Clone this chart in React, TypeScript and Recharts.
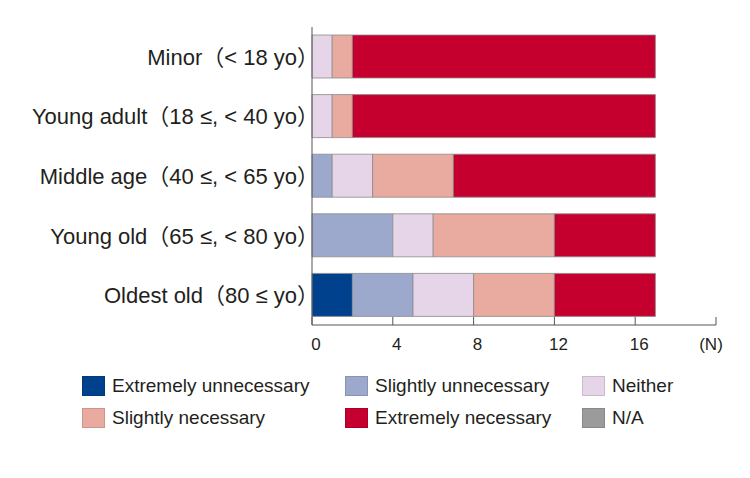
import React from 'react';
import { BarChart, Bar, XAxis, YAxis } from 'recharts';

const categories = [
    'Minor（< 18 yo）',
    'Young adult（18 ≤, < 40 yo）',
    'Middle age（40 ≤, < 65 yo）',
    'Young old（65 ≤, < 80 yo）',
    'Oldest old（80 ≤ yo）',
];

const seriesNames = [
    'Extremely unnecessary',
    'Slightly unnecessary',
    'Neither',
    'Slightly necessary',
    'Extremely necessary',
    'N/A',
];

const seriesColors = ['#00418E', '#9CA9CC', '#E6D5E8', '#E9AAA0', '#C5002E', '#9B9B9B'];

const extremelyUnnecessary = [0, 0, 0, 0, 2];
const slightlyUnnecessary = [0, 0, 1, 4, 3];
const neither = [1, 1, 2, 2, 3];
const slightlyNecessary = [1, 1, 4, 6, 4];
const extremelyNecessary = [15, 15, 10, 5, 5];
const notAvailable = [0, 0, 0, 0, 0];

const xTicks = [0, 4, 8, 12, 16, 20];
const xTickLabels = ['0', '4', '8', '12', '16', '(N)'];

const seriesValues = [
    extremelyUnnecessary,
    slightlyUnnecessary,
    neither,
    slightlyNecessary,
    extremelyNecessary,
    notAvailable,
];

const data = categories.map((name, i) => {
    const row: Record<string, string | number> = { name };
    seriesValues.forEach((vals, s) => {
        row['s' + s] = vals[i];
    });
    return row;
});

const FONT = "'Liberation Sans', Arial, 'Noto Sans CJK JP', sans-serif";
const NARROW = "'Liberation Sans Narrow', 'Arial Narrow', 'Liberation Sans', sans-serif";

function XTick(props: any) {
    const { x, y, payload } = props;
    const idx = xTicks.indexOf(payload.value);
    const label = xTickLabels[idx] ?? String(payload.value);
    const dx = label === '(N)' ? -5 : 4;
    return (
        <g>
            <line x1={x} y1={y} x2={x} y2={y - 8} stroke="#555" strokeWidth={1} />
            <text x={x + dx} y={y + 25} textAnchor="middle" fontSize={17} fill="#231f20" fontFamily={NARROW}>
                {label}
            </text>
        </g>
    );
}

// full-width closing paren carries its own right-side blank, so push the text a bit right
function YTick(props: any) {
    const { x, y, payload } = props;
    return (
        <text x={x + 7} y={y} dy="0.36em" textAnchor="end" fontSize={22} fill="#231f20" fontFamily={FONT}>
            {payload.value}
        </text>
    );
}

const legendCols = [82, 345, 582];
const legendRows = [376, 408];

export default function App() {
    return (
        <div style={{ position: 'absolute', left: 0, top: 0, width: 750, height: 478, background: '#fff', fontFamily: FONT }}>
            <BarChart
                width={750}
                height={478}
                data={data}
                layout="vertical"
                margin={{ top: 27, right: 34, bottom: 123, left: 0 }}
                barSize={43}
            >
                <XAxis
                    type="number"
                    domain={[0, 20]}
                    ticks={xTicks}
                    height={30}
                    axisLine={{ stroke: '#555' }}
                    tickLine={false}
                    tickSize={0}
                    tickMargin={0}
                    tick={<XTick />}
                    interval={0}
                />
                <YAxis
                    type="category"
                    dataKey="name"
                    width={312}
                    axisLine={{ stroke: '#555' }}
                    tickLine={false}
                    tickSize={0}
                    tickMargin={0}
                    tick={<YTick />}
                />
                {seriesNames.map((n, s) => (
                    <Bar
                        key={n}
                        dataKey={'s' + s}
                        name={n}
                        stackId="a"
                        fill={seriesColors[s]}
                        stroke="#8a8a8a"
                        strokeWidth={0.8}
                        isAnimationActive={false}
                    />
                ))}
            </BarChart>
            {seriesNames.map((n, s) => {
                const left = legendCols[s % 3];
                const top = legendRows[Math.floor(s / 3)];
                return (
                    <div key={n} style={{ position: 'absolute', left, top, height: 20, display: 'flex', alignItems: 'center' }}>
                        <div style={{ width: 23, height: 20, background: seriesColors[s], boxSizing: 'border-box', border: '1px solid rgba(0,0,0,0.12)' }} />
                        <span style={{ marginLeft: 7, fontSize: 19, color: '#231f20', lineHeight: '20px', whiteSpace: 'nowrap' }}>{n}</span>
                    </div>
                );
            })}
        </div>
    );
}
